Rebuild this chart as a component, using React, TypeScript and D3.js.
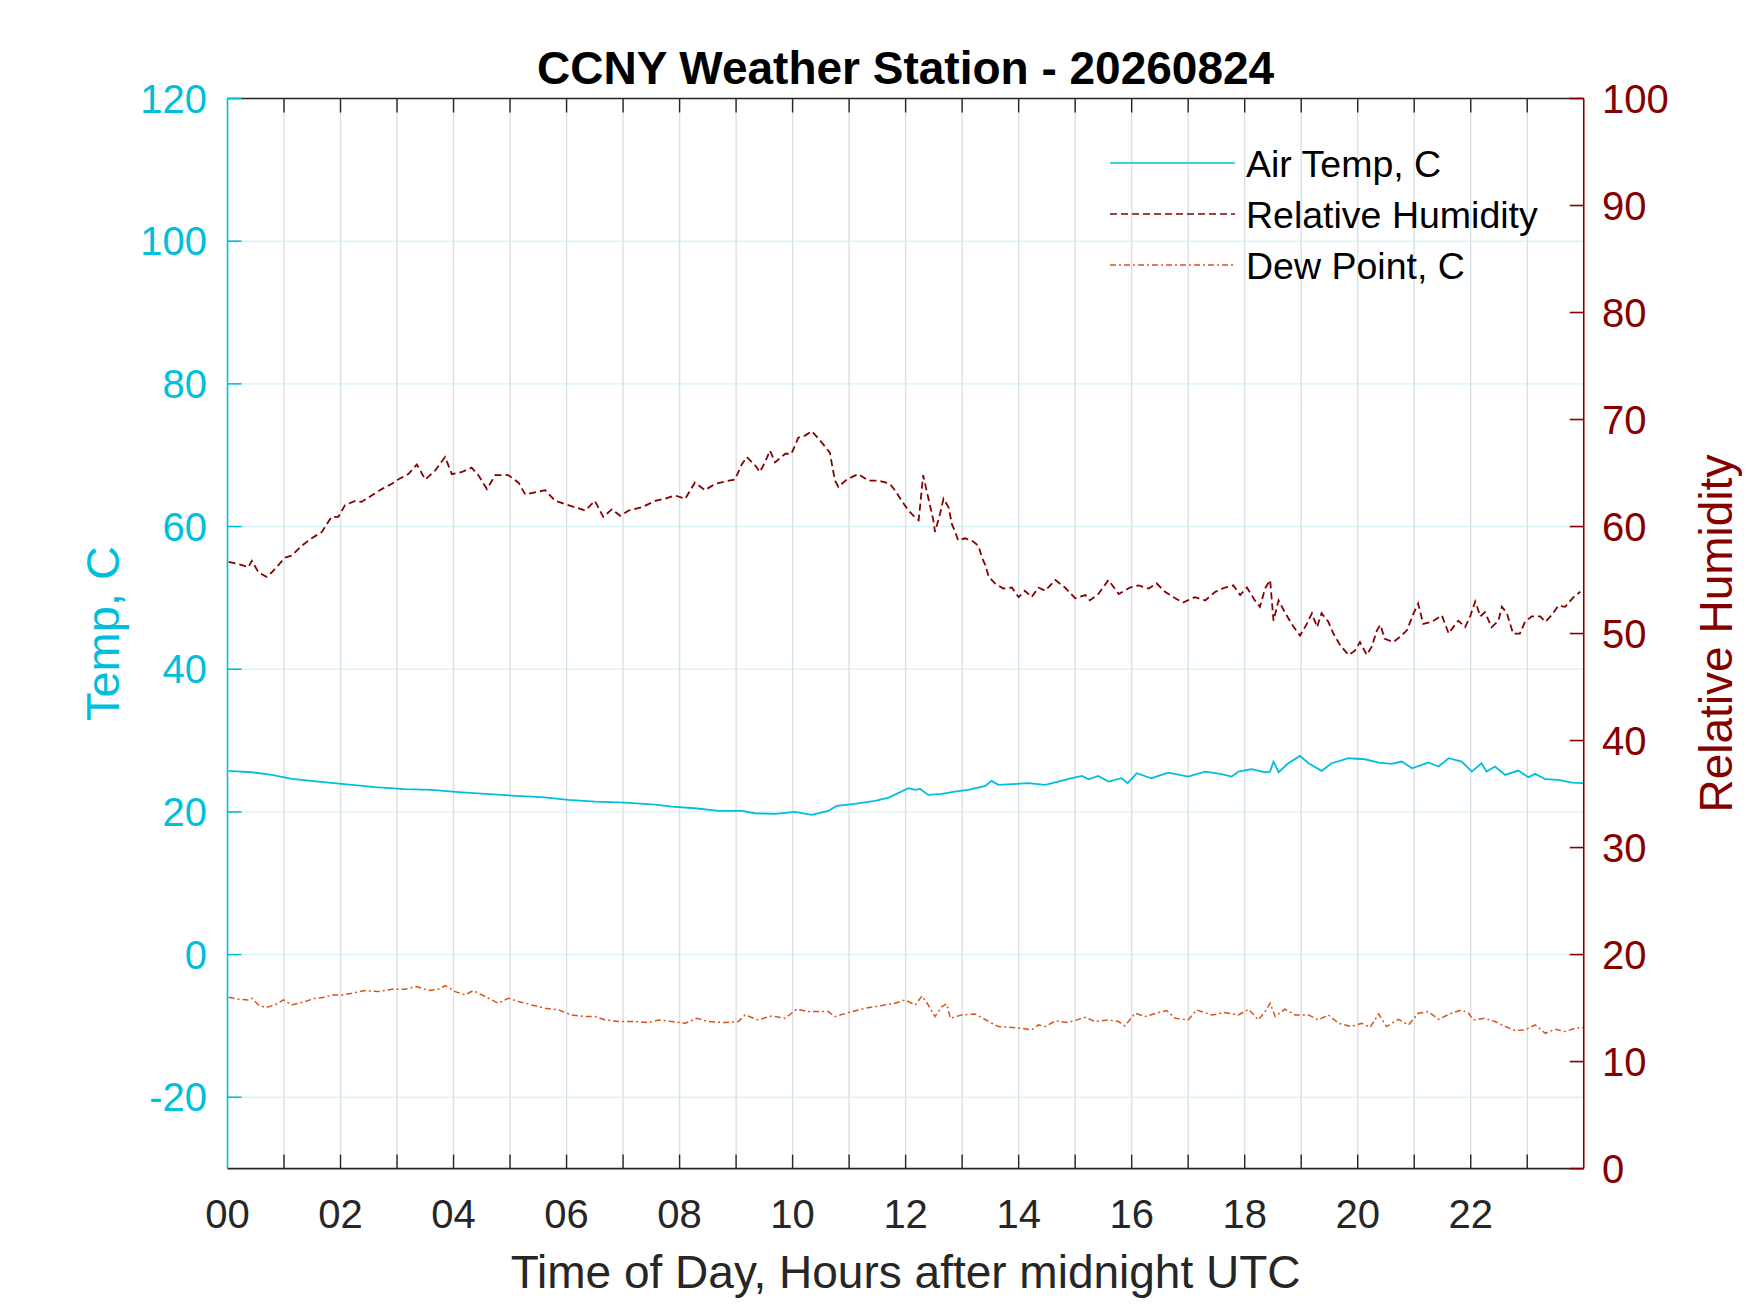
import React, { useEffect, useRef } from "react";
import * as d3 from "d3";

// values, hours after midnight UTC
const tempHours = [
  0.02, 0.43, 0.78, 1.14, 1.61, 2.02, 2.61, 3.14, 3.61, 4.09, 4.56, 5.03, 5.56,
  6.03, 6.51, 7.04, 7.57, 7.86, 8.27, 8.69, 9.1, 9.33, 9.69, 10.04, 10.34,
  10.63, 10.78, 11.1, 11.46, 11.7, 12.05, 12.17, 12.26, 12.4, 12.64, 12.87,
  13.11, 13.41, 13.52, 13.64, 13.88, 14.17, 14.47, 14.7, 14.94, 15.12, 15.24,
  15.41, 15.59, 15.82, 15.93, 16.09, 16.35, 16.65, 17.0, 17.3, 17.59, 17.77,
  17.89, 18.12, 18.36, 18.45, 18.51, 18.6, 18.77, 18.98, 19.13, 19.36, 19.54,
  19.84, 20.13, 20.37, 20.6, 20.78, 20.96, 21.25, 21.43, 21.61, 21.84, 22.02,
  22.19, 22.28, 22.43, 22.61, 22.84, 23.02, 23.14, 23.32, 23.55, 23.79, 23.99,
];
const tempValues = [
  25.75, 25.56, 25.19, 24.63, 24.25, 23.93, 23.46, 23.18, 23.08, 22.76, 22.52,
  22.29, 22.06, 21.68, 21.45, 21.31, 21.03, 20.75, 20.51, 20.14, 20.14, 19.81,
  19.72, 20.0, 19.58, 20.14, 20.84, 21.12, 21.54, 22.01, 23.32, 23.08, 23.22,
  22.38, 22.52, 22.85, 23.08, 23.64, 24.35, 23.79, 23.88, 24.02, 23.79, 24.25,
  24.72, 25.05, 24.58, 25.05, 24.25, 24.72, 24.02, 25.42, 24.72, 25.51, 24.95,
  25.65, 25.28, 24.95, 25.65, 25.98, 25.56, 25.65, 27.06, 25.56, 26.82, 27.85,
  26.82, 25.75, 26.82, 27.52, 27.38, 26.92, 26.73, 27.06, 26.12, 26.92, 26.36,
  27.52, 27.06, 25.65, 26.82, 25.65, 26.36, 25.19, 25.79, 24.86, 25.33, 24.58,
  24.49, 24.11, 24.02,
];

const rhHours = [
  0.02, 0.19, 0.37, 0.43, 0.55, 0.69, 0.78, 0.9, 1.02, 1.14, 1.31, 1.49, 1.67,
  1.84, 1.96, 2.08, 2.26, 2.37, 2.55, 2.73, 2.91, 3.02, 3.2, 3.35, 3.5, 3.67,
  3.85, 3.97, 4.15, 4.32, 4.44, 4.59, 4.74, 4.97, 5.15, 5.27, 5.44, 5.62, 5.8,
  5.97, 6.15, 6.33, 6.5, 6.65, 6.8, 6.95, 7.1, 7.33, 7.57, 7.74, 7.92, 8.1,
  8.27, 8.45, 8.63, 8.8, 8.98, 9.1, 9.19, 9.34, 9.42, 9.51, 9.6, 9.69, 9.87,
  9.98, 10.1, 10.22, 10.34, 10.46, 10.57, 10.66, 10.7, 10.75, 10.81, 10.96,
  11.16, 11.34, 11.52, 11.72, 11.81, 11.93, 12.05, 12.14, 12.23, 12.26, 12.31,
  12.37, 12.43, 12.49, 12.52, 12.61, 12.67, 12.76, 12.82, 12.87, 12.93, 13.05,
  13.17, 13.29, 13.35, 13.41, 13.47, 13.58, 13.73, 13.88, 14.0, 14.11, 14.23,
  14.35, 14.47, 14.65, 14.82, 15.0, 15.18, 15.26, 15.41, 15.59, 15.77, 15.97,
  16.12, 16.3, 16.44, 16.59, 16.77, 16.91, 17.12, 17.3, 17.48, 17.65, 17.8,
  17.92, 18.04, 18.18, 18.27, 18.36, 18.45, 18.51, 18.6, 18.71, 18.83, 18.98,
  19.1, 19.19, 19.28, 19.36, 19.48, 19.57, 19.69, 19.84, 19.95, 20.04, 20.16,
  20.25, 20.34, 20.4, 20.48, 20.63, 20.75, 20.87, 20.99, 21.07, 21.16, 21.31,
  21.49, 21.61, 21.69, 21.78, 21.9, 21.99, 22.08, 22.17, 22.25, 22.37, 22.49,
  22.55, 22.64, 22.75, 22.87, 22.96, 23.08, 23.23, 23.32, 23.43, 23.55, 23.67,
  23.82, 23.94,
];
const rhValues = [
  56.7, 56.5, 56.2, 56.8, 55.7, 55.3, 55.7, 56.4, 57.1, 57.3, 58.2, 58.9, 59.5,
  60.9, 60.9, 62.0, 62.4, 62.3, 62.9, 63.5, 64.0, 64.4, 64.9, 65.8, 64.4, 65.2,
  66.5, 64.9, 65.1, 65.5, 64.8, 63.5, 64.8, 64.8, 64.1, 63.0, 63.2, 63.4, 62.4,
  62.1, 61.8, 61.5, 62.4, 60.9, 61.6, 61.0, 61.5, 61.8, 62.4, 62.6, 62.9, 62.6,
  64.1, 63.4, 64.0, 64.2, 64.4, 65.8, 66.5, 65.7, 65.1, 66.0, 67.1, 66.0, 66.8,
  66.8, 68.3, 68.5, 68.9, 68.2, 67.5, 66.9, 65.7, 64.3, 63.7, 64.4, 64.9, 64.3,
  64.3, 64.0, 63.4, 62.4, 61.5, 61.0, 60.6, 62.1, 64.8, 63.4, 62.0, 60.6, 59.5,
  61.2, 62.6, 61.8, 60.2, 59.6, 58.7, 58.9, 58.7, 58.2, 57.1, 56.4, 55.3, 54.7,
  54.2, 54.3, 53.4, 54.0, 53.4, 54.3, 54.0, 55.0, 54.3, 53.3, 53.6, 53.1, 53.7,
  55.0, 53.7, 54.3, 54.5, 54.2, 54.7, 53.9, 53.3, 52.9, 53.4, 53.1, 53.9, 54.3,
  54.5, 53.6, 54.3, 53.1, 52.5, 54.2, 55.0, 51.2, 53.1, 52.0, 50.9, 49.8, 50.9,
  51.9, 50.6, 51.9, 51.1, 50.0, 48.9, 48.0, 48.4, 49.2, 48.0, 48.8, 50.3, 50.8,
  49.5, 49.2, 49.7, 50.3, 51.9, 52.8, 50.9, 51.1, 51.7, 50.0, 50.6, 51.2, 50.6,
  51.6, 53.0, 51.6, 52.0, 50.6, 51.2, 52.5, 51.9, 50.0, 50.0, 51.1, 51.6, 51.6,
  51.1, 51.7, 52.6, 52.5, 53.4, 53.9,
];

const dewHours = [
  0.02, 0.19, 0.37, 0.43, 0.55, 0.67, 0.84, 0.99, 1.14, 1.37, 1.55, 1.73, 1.84,
  2.02, 2.2, 2.43, 2.67, 2.91, 3.14, 3.35, 3.56, 3.73, 3.85, 4.03, 4.2, 4.35,
  4.56, 4.79, 4.97, 5.15, 5.38, 5.62, 5.86, 6.09, 6.33, 6.51, 6.68, 6.92, 7.21,
  7.45, 7.63, 7.86, 8.1, 8.3, 8.51, 8.8, 9.04, 9.16, 9.39, 9.63, 9.87, 10.07,
  10.28, 10.63, 10.75, 10.99, 11.28, 11.58, 11.81, 11.99, 12.17, 12.29, 12.4,
  12.52, 12.64, 12.73, 12.79, 12.99, 13.23, 13.47, 13.64, 13.82, 14.05, 14.23,
  14.35, 14.47, 14.65, 14.88, 15.18, 15.35, 15.59, 15.77, 15.88, 16.06, 16.24,
  16.47, 16.62, 16.77, 17.0, 17.15, 17.42, 17.65, 17.89, 18.07, 18.24, 18.36,
  18.45, 18.54, 18.71, 18.89, 19.13, 19.3, 19.48, 19.66, 19.89, 20.07, 20.22,
  20.37, 20.51, 20.72, 20.9, 21.07, 21.25, 21.43, 21.66, 21.84, 21.96, 22.05,
  22.25, 22.43, 22.61, 22.79, 22.96, 23.14, 23.32, 23.49, 23.67, 23.85, 23.99,
];
const dewValues = [
  -5.98, -6.26, -6.36, -6.12, -7.06, -7.43, -7.06, -6.36, -7.06, -6.59, -6.12,
  -5.98, -5.65, -5.65, -5.42, -5.05, -5.19, -4.86, -4.86, -4.49, -5.05, -4.86,
  -4.35, -5.19, -5.65, -5.05, -5.89, -6.82, -6.12, -6.59, -7.06, -7.52, -7.76,
  -8.46, -8.69, -8.69, -9.16, -9.39, -9.39, -9.53, -9.16, -9.39, -9.63, -8.93,
  -9.39, -9.53, -9.39, -8.46, -9.16, -8.6, -8.93, -7.66, -7.99, -7.99, -8.69,
  -8.13, -7.52, -7.15, -6.82, -6.36, -7.06, -5.79, -7.06, -8.69, -7.29, -6.92,
  -8.93, -8.46, -8.32, -9.39, -10.09, -10.19, -10.33, -10.56, -9.86, -10.09,
  -9.3, -9.53, -8.79, -9.39, -9.16, -9.39, -10.0, -8.22, -8.69, -8.13, -7.85,
  -8.93, -9.16, -7.76, -8.46, -8.13, -8.46, -7.66, -9.16, -7.99, -6.82, -8.69,
  -7.66, -8.46, -8.46, -9.16, -8.46, -9.63, -10.09, -9.63, -10.19, -8.32,
  -10.09, -9.07, -9.86, -8.22, -7.99, -9.07, -8.22, -7.76, -8.22, -9.16, -8.93,
  -9.39, -10.09, -10.65, -10.56, -9.86, -11.03, -10.47, -10.79, -10.33, -10.19,
];

const hourTicks = d3.range(0, 24);
const hourLabels = ["00", "02", "04", "06", "08", "10", "12", "14", "16", "18", "20", "22"];
const tempTicks = [-20, 0, 20, 40, 60, 80, 100, 120];
const rhTicks = [0, 10, 20, 30, 40, 50, 60, 70, 80, 90, 100];
const legendLabels = ["Air Temp, C", "Relative Humidity", "Dew Point, C"];

const W = 1750;
const H = 1313;
const FONT = "'Liberation Sans', Arial, Helvetica, sans-serif";
const CYAN = "#00bfdc";
const RED = "#860000";
const ORANGE = "#d95319";
const DARK = "#262626";

export default function App() {
  const svgRef = useRef<SVGSVGElement>(null);

  useEffect(() => {
    if (!svgRef.current) return;
    const svg = d3.select(svgRef.current);
    svg.selectAll("*").remove();

    const left = 227.5;
    const right = 1583.75;
    const top = 98.5;
    const bottom = 1168.6;

    const x = d3.scaleLinear().domain([0, 24]).range([left, right]);
    const yT = d3.scaleLinear().domain([-30, 120]).range([bottom, top]);
    const yRH = d3.scaleLinear().domain([0, 100]).range([bottom, top]);

    svg.append("rect").attr("width", W).attr("height", H).attr("fill", "#fff");

    svg
      .append("defs")
      .append("clipPath")
      .attr("id", "plot-clip")
      .append("rect")
      .attr("x", left)
      .attr("y", top)
      .attr("width", right - left)
      .attr("height", bottom - top);

    // grid
    const grid = svg.append("g");
    grid
      .selectAll(".hgrid")
      .data(tempTicks)
      .enter()
      .append("line")
      .attr("x1", left)
      .attr("x2", right)
      .attr("y1", (d) => yT(d))
      .attr("y2", (d) => yT(d))
      .attr("stroke", "#d6f3f8")
      .attr("stroke-width", 1.4);
    grid
      .selectAll(".vgrid")
      .data(hourTicks.filter((h) => h > 0))
      .enter()
      .append("line")
      .attr("x1", (d) => x(d))
      .attr("x2", (d) => x(d))
      .attr("y1", top)
      .attr("y2", bottom)
      .attr("stroke", "#dcdfe3")
      .attr("stroke-width", 1.4);

    // series
    const lines = svg.append("g").attr("clip-path", "url(#plot-clip)");
    const tLine = d3
      .line<number>()
      .x((d, i) => x(tempHours[i]))
      .y((d) => yT(d));
    const dLine = d3
      .line<number>()
      .x((d, i) => x(dewHours[i]))
      .y((d) => yT(d));
    const rLine = d3
      .line<number>()
      .x((d, i) => x(rhHours[i]))
      .y((d) => yRH(d));

    lines
      .append("path")
      .attr("d", dLine(dewValues))
      .attr("fill", "none")
      .attr("stroke", ORANGE)
      .attr("stroke-width", 1.5)
      .attr("stroke-dasharray", "6,3,2,3");
    lines
      .append("path")
      .attr("d", tLine(tempValues))
      .attr("fill", "none")
      .attr("stroke", CYAN)
      .attr("stroke-width", 1.8);
    lines
      .append("path")
      .attr("d", rLine(rhValues))
      .attr("fill", "none")
      .attr("stroke", RED)
      .attr("stroke-width", 1.8)
      .attr("stroke-dasharray", "7,4");

    // axes box
    const axes = svg.append("g");
    axes.append("line").attr("x1", left).attr("x2", right).attr("y1", top).attr("y2", top)
      .attr("stroke", DARK).attr("stroke-width", 1.4);
    axes.append("line").attr("x1", left).attr("x2", right).attr("y1", bottom).attr("y2", bottom)
      .attr("stroke", DARK).attr("stroke-width", 1.6);
    axes.append("line").attr("x1", left).attr("x2", left).attr("y1", top).attr("y2", bottom)
      .attr("stroke", CYAN).attr("stroke-width", 1.6);
    axes.append("line").attr("x1", right).attr("x2", right).attr("y1", top).attr("y2", bottom)
      .attr("stroke", RED).attr("stroke-width", 1.6);

    const tick = 14;
    hourTicks
      .filter((h) => h > 0)
      .forEach((h) => {
        axes.append("line").attr("x1", x(h)).attr("x2", x(h)).attr("y1", bottom).attr("y2", bottom - tick)
          .attr("stroke", DARK).attr("stroke-width", 1.4);
        axes.append("line").attr("x1", x(h)).attr("x2", x(h)).attr("y1", top).attr("y2", top + tick)
          .attr("stroke", DARK).attr("stroke-width", 1.4);
      });
    tempTicks.forEach((t) => {
      axes.append("line").attr("x1", left).attr("x2", left + tick).attr("y1", yT(t)).attr("y2", yT(t))
        .attr("stroke", CYAN).attr("stroke-width", 1.6);
    });
    rhTicks.forEach((r) => {
      axes.append("line").attr("x1", right).attr("x2", right - tick).attr("y1", yRH(r)).attr("y2", yRH(r))
        .attr("stroke", RED).attr("stroke-width", 1.6);
    });

    // tick labels
    const labels = svg.append("g").style("font-family", FONT);
    labels
      .selectAll(".xl")
      .data(hourLabels)
      .enter()
      .append("text")
      .attr("x", (d) => x(+d))
      .attr("y", 1228)
      .attr("text-anchor", "middle")
      .attr("fill", DARK)
      .style("font-size", "40px")
      .text((d) => d);
    labels
      .selectAll(".yl")
      .data(tempTicks)
      .enter()
      .append("text")
      .attr("x", 207)
      .attr("y", (d) => yT(d) + 14)
      .attr("text-anchor", "end")
      .attr("fill", CYAN)
      .style("font-size", "40px")
      .text((d) => String(d));
    labels
      .selectAll(".yr")
      .data(rhTicks)
      .enter()
      .append("text")
      .attr("x", 1602)
      .attr("y", (d) => yRH(d) + 14)
      .attr("text-anchor", "start")
      .attr("fill", RED)
      .style("font-size", "40px")
      .text((d) => String(d));

    // axis titles
    labels
      .append("text")
      .attr("x", (left + right) / 2)
      .attr("y", 1288)
      .attr("text-anchor", "middle")
      .attr("fill", DARK)
      .style("font-size", "46px")
      .text("Time of Day, Hours after midnight UTC");
    labels
      .append("text")
      .attr("transform", `translate(119,${(top + bottom) / 2}) rotate(-90)`)
      .attr("text-anchor", "middle")
      .attr("fill", CYAN)
      .style("font-size", "47px")
      .text("Temp, C");
    labels
      .append("text")
      .attr("transform", `translate(1732,${(top + bottom) / 2}) rotate(-90)`)
      .attr("text-anchor", "middle")
      .attr("fill", RED)
      .style("font-size", "46px")
      .text("Relative Humidity");
    labels
      .append("text")
      .attr("x", (left + right) / 2)
      .attr("y", 84)
      .attr("text-anchor", "middle")
      .attr("fill", "#000")
      .style("font-size", "46px")
      .style("font-weight", "bold")
      .text("CCNY Weather Station - 20260824");

    // legend
    const legend = svg.append("g").style("font-family", FONT);
    const styles = [
      { color: CYAN, dash: null, width: 1.6 },
      { color: RED, dash: "7,4", width: 1.6 },
      { color: ORANGE, dash: "6,3,2,3", width: 1.4 },
    ];
    legendLabels.forEach((label, i) => {
      const ly = 163 + i * 51;
      const s = styles[i];
      legend
        .append("line")
        .attr("x1", 1110)
        .attr("x2", 1235)
        .attr("y1", ly)
        .attr("y2", ly)
        .attr("stroke", s.color)
        .attr("stroke-width", s.width)
        .attr("stroke-dasharray", s.dash);
      legend
        .append("text")
        .attr("x", 1246)
        .attr("y", ly + 14)
        .attr("fill", "#000")
        .style("font-size", "37.5px")
        .text(label);
    });
  }, []);

  return (
    <div style={{ position: "absolute", left: 0, top: 0 }}>
      <svg ref={svgRef} width={W} height={H} />
    </div>
  );
}
